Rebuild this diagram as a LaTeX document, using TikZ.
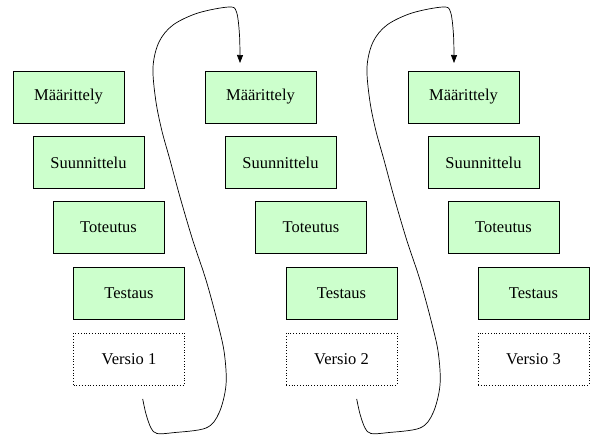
\documentclass[tikz,border=0pt]{standalone}
\usepackage{fontspec}
\setmainfont{Liberation Serif}
\usetikzlibrary{arrows.meta}
\definecolor{boxgreen}{HTML}{CCFFCC}
\tikzset{
  phase/.style={draw=black, line width=0.8pt, fill=boxgreen, minimum width=111pt, minimum height=52pt, inner sep=0pt, font=\fontsize{16.5}{18}\selectfont},
  version/.style={draw=black, dotted, line width=0.8pt, fill=white, minimum width=111pt, minimum height=52pt, inner sep=0pt, font=\fontsize{16.5}{18}\selectfont},
  loop/.style={draw=black, line width=0.7pt, -{Triangle[length=8pt,width=6pt]}}
}
\begin{document}
\begin{tikzpicture}[x=1pt,y=-1pt]
\useasboundingbox[fill=white] (0,0) rectangle (604,439);
% column 1
\node[phase] (m1) at (68.5,97) {Määrittely};
\node[phase] (s1) at (88.5,162.5) {Suunnittelu};
\node[phase] (t1) at (108.5,227) {Toteutus};
\node[phase] (e1) at (129,293.5) {Testaus};
\node[version] (v1) at (129,359) {Versio 1};
% column 2
\node[phase] (m2) at (260.5,97) {Määrittely};
\node[phase] (s2) at (280.5,162.5) {Suunnittelu};
\node[phase] (t2) at (311,227) {Toteutus};
\node[phase] (e2) at (341.5,293.5) {Testaus};
\node[version] (v2) at (341.5,359) {Versio 2};
% column 3
\node[phase] (m3) at (463.5,97) {Määrittely};
\node[phase] (s3) at (483.5,162.5) {Suunnittelu};
\node[phase] (t3) at (503.5,227) {Toteutus};
\node[phase] (e3) at (533.5,293.5) {Testaus};
\node[version] (v3) at (533.5,359) {Versio 3};
% loop connectors
\coordinate (a1) at (142.7,399);
\coordinate (b1) at (240,63);
\coordinate (a2) at (356.7,399);
\coordinate (b2) at (454,63);
\foreach \s/\a/\b in {0/a1/b1, 214/a2/b2}{
\draw[loop] plot[smooth, tension=0.55] coordinates {(\a)
 ([xshift=\s]146,414) ([xshift=\s]151,428) ([xshift=\s]157,433.5) ([xshift=\s]173,432.7)
 ([xshift=\s]206,428) ([xshift=\s]219,413) ([xshift=\s]226,385) ([xshift=\s]224.3,353)
 ([xshift=\s]217.7,323) ([xshift=\s]206,280) ([xshift=\s]192.7,240) ([xshift=\s]180,197)
 ([xshift=\s]170,160) ([xshift=\s]161.7,130) ([xshift=\s]155.7,100) ([xshift=\s]153,67)
 ([xshift=\s]159,42) ([xshift=\s]173,25) ([xshift=\s]198,13) ([xshift=\s]229,7)
 ([xshift=\s]236.5,12) ([xshift=\s]239.5,35) (\b)};
}
\end{tikzpicture}
\end{document}
